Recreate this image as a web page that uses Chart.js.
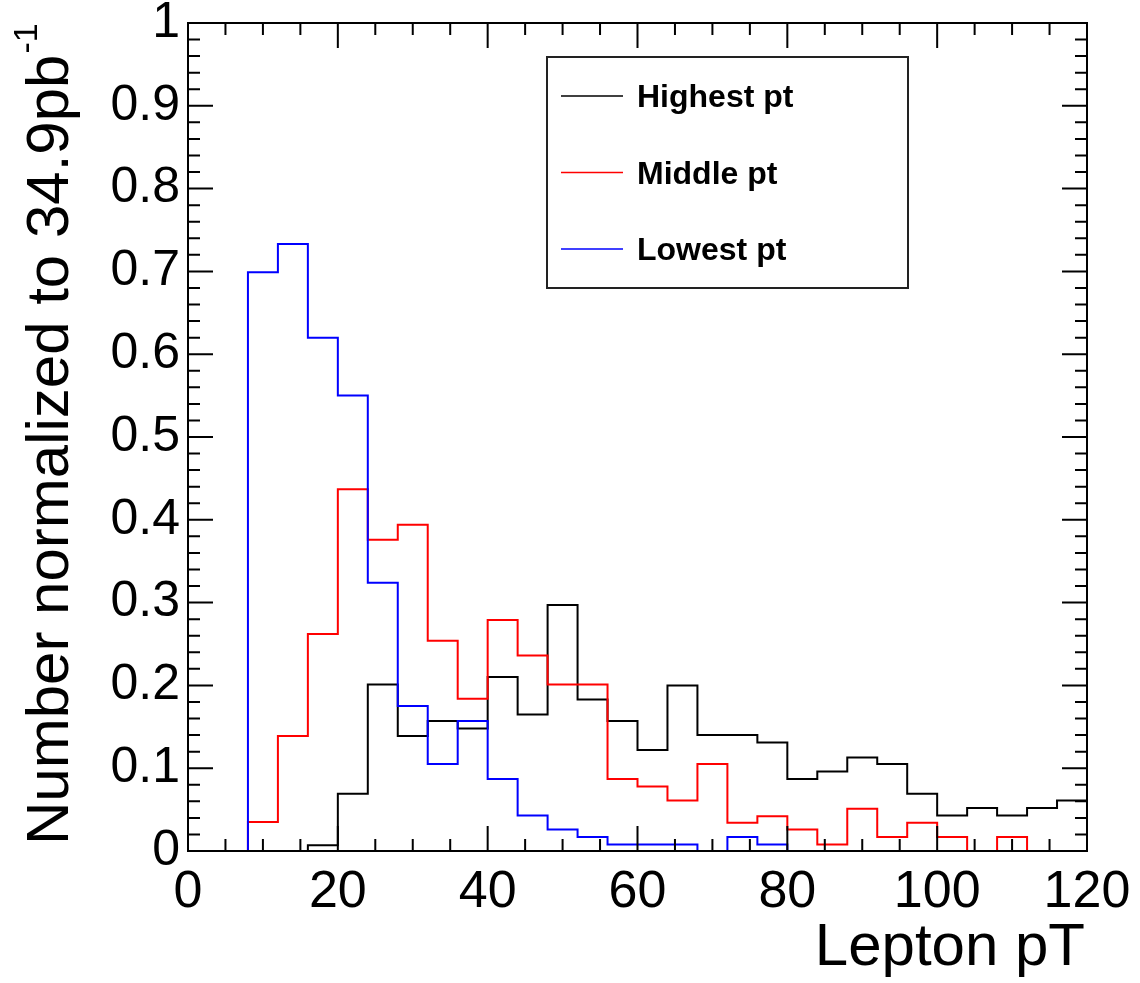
<!DOCTYPE html>
<html>
<head>
<meta charset="utf-8">
<title>Lepton pT</title>
<script src="https://cdn.jsdelivr.net/npm/chart.js@4.4.1/dist/chart.umd.min.js"></script>
<style>
    html, body { margin: 0; padding: 0; background: #fff; }
    canvas { display: block; }
</style>
</head>
<body>
<canvas id="ptChart" width="1140" height="983"></canvas>
<script>
// bin edges (4 GeV wide bins)
const binEdges = [0, 4, 8, 12, 16, 20, 24, 28, 32, 36, 40, 44, 48, 52, 56, 60,
    64, 68, 72, 76, 80, 84, 88, 92, 96, 100, 104, 108, 112, 116, 120];

const highestPt = [0, 0, 0, 0, 0.007, 0.069, 0.201, 0.139, 0.157, 0.148,
    0.210, 0.165, 0.297, 0.183, 0.157, 0.122, 0.200, 0.140, 0.140, 0.131,
    0.087, 0.096, 0.113, 0.105, 0.069, 0.043, 0.052, 0.043, 0.052, 0.061];

const middlePt = [0, 0, 0.035, 0.139, 0.262, 0.437, 0.376, 0.394, 0.254, 0.184,
    0.279, 0.236, 0.201, 0.201, 0.087, 0.078, 0.061, 0.105, 0.034, 0.042,
    0.026, 0.008, 0.051, 0.017, 0.034, 0.017, 0, 0.017, 0, 0];

const lowestPt = [0, 0, 0.699, 0.733, 0.620, 0.550, 0.324, 0.175, 0.105, 0.157,
    0.087, 0.043, 0.026, 0.017, 0.008, 0.008, 0.008, 0, 0.017, 0.008,
    0, 0, 0, 0, 0, 0, 0, 0, 0, 0];

const seriesNames = ['Highest pt', 'Middle pt', 'Lowest pt'];
const xTicks = [0, 20, 40, 60, 80, 100, 120];
const yTicks = [0, 0.1, 0.2, 0.3, 0.4, 0.5, 0.6, 0.7, 0.8, 0.9, 1];
const yTickLabels = ['0', '0.1', '0.2', '0.3', '0.4', '0.5', '0.6', '0.7', '0.8', '0.9', '1'];
const xTitle = 'Lepton pT';
const yTitle = 'Number normalized to 34.9pb';
const yTitleSup = '-1';

const FONT = '"Liberation Sans", Arial, Helvetica, sans-serif';

// histogram outline: one point per left bin edge + closing point at the last edge
// (stepped 'before' keeps each bin's value until the next edge)
function toSteps(vals) {
    const pts = vals.map((v, i) => ({ x: binEdges[i], y: v }));
    pts.push({ x: binEdges[vals.length], y: vals[vals.length - 1] });
    return pts;
}

// ROOT style frame with inward ticks on all four sides
const frameTicks = {
    id: 'frameTicks',
    afterDatasetsDraw(chart) {
        const { ctx, chartArea: a } = chart;
        const x = chart.scales.x, y = chart.scales.y;
        ctx.save();
        ctx.strokeStyle = '#000';
        ctx.lineWidth = 2;
        ctx.beginPath();
        for (let i = 0; i <= 24; i++) {
            const px = x.getPixelForValue(i * 5);
            const len = i % 4 === 0 ? 25 : 12;
            ctx.moveTo(px, a.bottom); ctx.lineTo(px, a.bottom - len);
            ctx.moveTo(px, a.top); ctx.lineTo(px, a.top + len);
        }
        for (let i = 0; i <= 50; i++) {
            const py = y.getPixelForValue(i * 0.02);
            const len = i % 5 === 0 ? 25 : 12;
            ctx.moveTo(a.left, py); ctx.lineTo(a.left + len, py);
            ctx.moveTo(a.right, py); ctx.lineTo(a.right - len, py);
        }
        ctx.stroke();
        ctx.strokeRect(a.left, a.top, a.right - a.left, a.bottom - a.top);
        ctx.restore();
    }
};

const boxLegend = {
    id: 'boxLegend',
    afterDraw(chart) {
        const ctx = chart.ctx;
        const left = 547, top = 57, w = 361, h = 231;
        ctx.save();
        ctx.fillStyle = '#fff';
        ctx.fillRect(left, top, w, h);
        ctx.strokeStyle = '#222';
        ctx.lineWidth = 2;
        ctx.strokeRect(left, top, w, h);
        ctx.font = 'bold 32px ' + FONT;
        ctx.textAlign = 'left';
        ctx.textBaseline = 'alphabetic';
        chart.data.datasets.forEach((ds, i) => {
            const ly = top + 39 + i * 76.5;
            ctx.strokeStyle = ds.borderColor;
            ctx.lineWidth = 1.5;
            ctx.beginPath();
            ctx.moveTo(left + 14, ly);
            ctx.lineTo(left + 76, ly);
            ctx.stroke();
            ctx.fillStyle = '#000';
            ctx.fillText(ds.label, left + 90, ly + 11);
        });
        ctx.restore();
    }
};

const axisTitles = {
    id: 'axisTitles',
    afterDraw(chart) {
        const { ctx, chartArea: a } = chart;
        ctx.save();
        ctx.fillStyle = '#000';
        ctx.textBaseline = 'alphabetic';
        // x title, right aligned to the frame
        ctx.font = '60px ' + FONT;
        ctx.textAlign = 'right';
        ctx.fillText(xTitle, a.right - 2, 965);
        // y title, rotated, with superscript
        ctx.translate(68, 845);
        ctx.rotate(-Math.PI / 2);
        ctx.textAlign = 'left';
        ctx.font = '60px ' + FONT;
        ctx.fillText(yTitle, 0, 0);
        const w = ctx.measureText(yTitle).width;
        ctx.font = '34px ' + FONT;
        ctx.fillText(yTitleSup, w + 1, -31);
        ctx.restore();
    }
};

new Chart(document.getElementById('ptChart'), {
    type: 'line',
    data: {
        datasets: [
            { label: seriesNames[0], data: toSteps(highestPt), borderColor: '#000000', order: 3 },
            { label: seriesNames[1], data: toSteps(middlePt), borderColor: '#ff0000', order: 2 },
            { label: seriesNames[2], data: toSteps(lowestPt), borderColor: '#0000ff', order: 1 }
        ]
    },
    options: {
        responsive: false,
        animation: false,
        devicePixelRatio: 1,
        layout: { padding: { left: 0, top: 23, right: 53, bottom: 0 } },
        elements: {
            line: { stepped: 'before', borderWidth: 2, fill: false, tension: 0 },
            point: { radius: 0, hoverRadius: 0 }
        },
        plugins: {
            legend: { display: false },
            tooltip: { enabled: false }
        },
        scales: {
            x: {
                type: 'linear',
                min: 0,
                max: 120,
                grid: { display: false, drawTicks: false, tickLength: 0 },
                border: { display: false },
                afterBuildTicks: s => { s.ticks = xTicks.map(v => ({ value: v })); },
                afterFit: s => { s.height = 132; s.paddingLeft = 0; s.paddingRight = 0; },
                ticks: {
                    color: '#000',
                    font: { family: FONT, size: 52 },
                    padding: 10,
                    maxRotation: 0,
                    autoSkip: false
                }
            },
            y: {
                type: 'linear',
                min: 0,
                max: 1,
                grid: { display: false, drawTicks: false, tickLength: 0 },
                border: { display: false },
                afterBuildTicks: s => { s.ticks = yTicks.map(v => ({ value: v })); },
                afterFit: s => { s.width = 188; s.paddingTop = 0; s.paddingBottom = 0; },
                ticks: {
                    color: '#000',
                    font: { family: FONT, size: 50 },
                    padding: 8,
                    autoSkip: false,
                    callback: (v, i) => yTickLabels[i]
                }
            }
        }
    },
    plugins: [frameTicks, boxLegend, axisTitles]
});
</script>
</body>
</html>
